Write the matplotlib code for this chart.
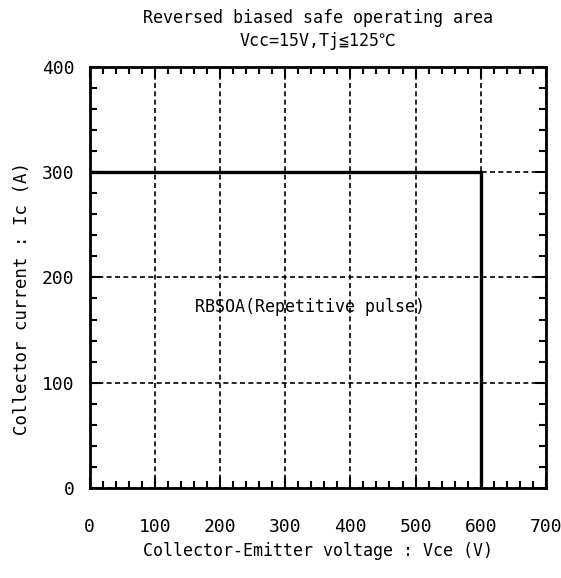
import matplotlib
matplotlib.use("Agg")
import matplotlib.pyplot as plt
from matplotlib.ticker import MultipleLocator

# RBSOA boundary (Vce in V, Ic in A)
vce = [0, 600, 600]
ic = [300, 300, 0]

x_ticks = [0, 100, 200, 300, 400, 500, 600, 700]
y_ticks = [0, 100, 200, 300, 400]

label_text = "RBSOA(Repetitive pulse)"
label_pos = (338, 172)

plt.rcParams['font.family'] = ['DejaVu Sans Mono', 'Noto Sans CJK JP', 'DejaVu Sans']

fig = plt.figure(figsize=(5.61, 5.78), dpi=100)
ax = fig.add_axes([0.160, 0.156, 0.813, 0.728])

ax.plot(vce, ic, color='black', linewidth=2.4, solid_joinstyle='miter', zorder=3)

ax.set_xlim(0, 700)
ax.set_ylim(0, 400)
ax.set_xticks(x_ticks)
ax.set_yticks(y_ticks)
ax.xaxis.set_minor_locator(MultipleLocator(20))
ax.yaxis.set_minor_locator(MultipleLocator(20))
ax.tick_params(which='both', direction='in', top=True, right=True, width=1.5, labelsize=13)
ax.tick_params(which='major', length=8)
ax.tick_params(which='minor', length=5)
ax.tick_params(axis='x', which='major', pad=22)
ax.tick_params(axis='y', which='major', pad=11)
ax.grid(True, which='major', color='black', linestyle=(0, (3, 2)), linewidth=1.2)
for s in ax.spines.values():
    s.set_linewidth(2)

ax.text(label_pos[0], label_pos[1], label_text, ha='center', va='center', fontsize=12)

ax.set_xlabel('Collector-Emitter voltage : Vce (V)', fontsize=12, labelpad=4)
ax.set_ylabel('Collector current : Ic (A)', fontsize=12.5, labelpad=10)
ax.yaxis.set_label_coords(-0.128, 0.45)
ax.set_title('Reversed biased safe operating area\nVcc=15V,Tj≦125℃', fontsize=12, linespacing=1.35, pad=15)

plt.savefig('out.png', dpi=100)
